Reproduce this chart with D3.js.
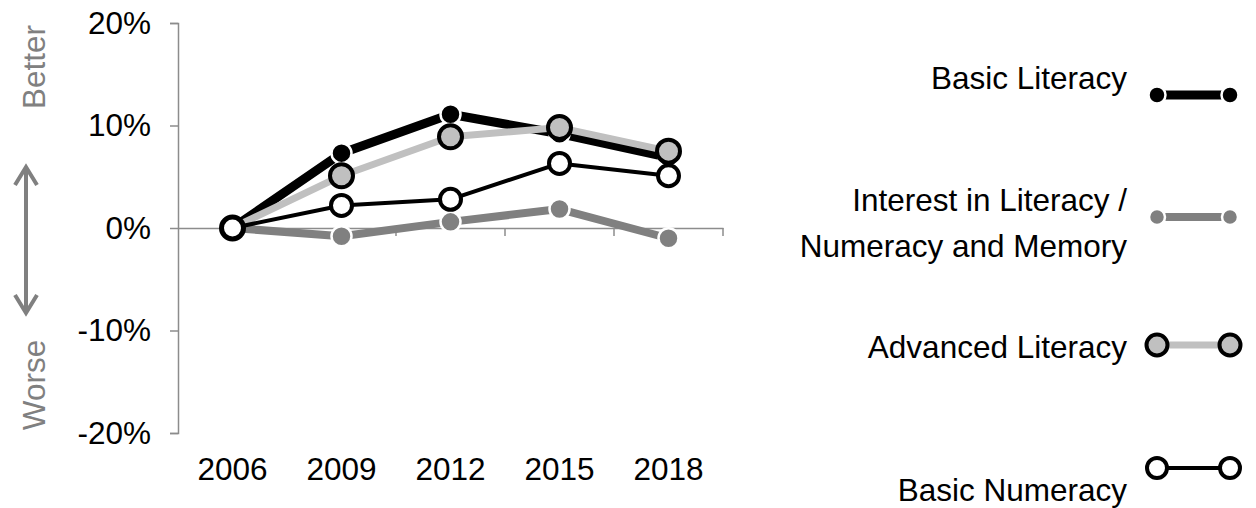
<!DOCTYPE html>
<html>
<head>
<meta charset="utf-8">
<script src="https://cdn.jsdelivr.net/npm/d3@7"></script>
<style>
  body { margin: 0; background: #fff; }
  text { font-family: "Liberation Sans", Arial, sans-serif; }
</style>
</head>
<body>
<svg id="chart" width="1256" height="508"></svg>
<script>
// data
var years = ['2006', '2009', '2012', '2015', '2018'];
var basicLiteracy = [0, 7.3, 11.1, 9.2, 6.9];
var interestLitNum = [0, -0.8, 0.6, 1.85, -1.0];
var advancedLiteracy = [0, 5.1, 8.9, 9.8, 7.5];
var basicNumeracy = [0, 2.2, 2.8, 6.3, 5.1];
var yTicks = [-20, -10, 0, 10, 20];

var series = [
  {name: ['Basic Literacy'], values: basicLiteracy, line: '#000', lw: 9, fill: '#000', stroke: '#fff', sw: 2.5, r: 10, lr: 8.5, legY: 95, txtY: 89},
  {name: ['Interest in Literacy /', 'Numeracy and Memory'], values: interestLitNum, line: '#808080', lw: 8, fill: '#808080', stroke: '#fff', sw: 2.5, r: 10, lr: 8, legY: 217, txtY: 211},
  {name: ['Advanced Literacy'], values: advancedLiteracy, line: '#c0c0c0', lw: 7, fill: '#c0c0c0', stroke: '#000', sw: 4, r: 11.5, lr: 10.5, legY: 345, txtY: 358},
  {name: ['Basic Numeracy'], values: basicNumeracy, line: '#000', lw: 4, fill: '#fff', stroke: '#000', sw: 4, r: 10.5, lr: 10, legY: 468, txtY: 501}
];

var fs = '31.5px';

var margin = {top: 23, left: 178},
    width = 545,
    height = 410;

var svg = d3.select('#chart');
var g = svg.append('g')
    .attr('transform', 'translate(' + margin.left + ',' + margin.top + ')');

var x = d3.scaleBand().domain(years).range([0, width]);
var y = d3.scaleLinear().domain([-20, 20]).range([height, 0]);

// y axis
var yAxis = g.append('g')
    .call(d3.axisLeft(y).tickValues(yTicks).tickSize(8).tickPadding(19).tickFormat(d => d + '%'));
yAxis.select('.domain').attr('stroke', '#8c8c8c').attr('stroke-width', 1.5);
yAxis.selectAll('.tick line').attr('stroke', '#8c8c8c').attr('stroke-width', 1.5);
yAxis.selectAll('.tick text').attr('fill', '#000').style('font-size', fs)
    .style('font-family', '"Liberation Sans", Arial, sans-serif');

// x axis along zero
var xAxis = g.append('g')
    .attr('transform', 'translate(0,' + y(0) + ')')
    .call(d3.axisBottom(x).tickSize(0).tickFormat(''));
xAxis.select('.domain').attr('stroke', '#8c8c8c').attr('stroke-width', 1.5);
// ticks between categories
var bounds = years.map(d => x(d) + x.bandwidth());
g.selectAll('.xtick')
  .data(bounds)
  .enter().append('line')
    .attr('x1', d => d).attr('x2', d => d)
    .attr('y1', y(0)).attr('y2', y(0) + 8)
    .attr('stroke', '#8c8c8c').attr('stroke-width', 1.5);

// year labels at the bottom
g.selectAll('.year')
  .data(years)
  .enter().append('text')
    .attr('x', d => x(d) + x.bandwidth() / 2)
    .attr('y', height + 47)
    .attr('text-anchor', 'middle')
    .style('font-size', fs)
    .text(d => d);

var line = d3.line()
    .x((d, i) => x(years[i]) + x.bandwidth() / 2)
    .y(d => y(d));

series.forEach(function(s) {
  g.append('path')
    .datum(s.values)
    .attr('fill', 'none')
    .attr('stroke', s.line)
    .attr('stroke-width', s.lw)
    .attr('stroke-linejoin', 'round')
    .attr('d', line);
  g.selectAll(null)
    .data(s.values)
    .enter().append('circle')
      .attr('cx', (d, i) => x(years[i]) + x.bandwidth() / 2)
      .attr('cy', d => y(d))
      .attr('r', s.r)
      .attr('fill', s.fill)
      .attr('stroke', s.stroke)
      .attr('stroke-width', s.sw);
});

// Better / Worse labels and double arrow
svg.append('text')
    .attr('transform', 'translate(45,67) rotate(-90)')
    .attr('text-anchor', 'middle')
    .attr('fill', '#808080')
    .style('font-size', fs)
    .text('Better');
svg.append('text')
    .attr('transform', 'translate(45,385) rotate(-90)')
    .attr('text-anchor', 'middle')
    .attr('fill', '#808080')
    .style('font-size', fs)
    .text('Worse');
svg.append('line')
    .attr('x1', 26).attr('x2', 26).attr('y1', 167).attr('y2', 313)
    .attr('stroke', '#808080').attr('stroke-width', 4);
svg.append('path')
    .attr('d', 'M15,185 L26,167 L37,185 M15,295 L26,313 L37,295')
    .attr('fill', 'none').attr('stroke', '#808080').attr('stroke-width', 4)
    .attr('stroke-linejoin', 'miter');

// legend
var leg = svg.append('g');
series.forEach(function(s) {
  var t = leg.append('text')
      .attr('x', 1127)
      .attr('y', s.txtY)
      .attr('text-anchor', 'end')
      .style('font-size', fs);
  s.name.forEach(function(n, i) {
    t.append('tspan').attr('x', 1127).attr('dy', i === 0 ? 0 : 46).text(n);
  });
  leg.append('line')
      .attr('x1', 1157).attr('x2', 1230)
      .attr('y1', s.legY).attr('y2', s.legY)
      .attr('stroke', s.line).attr('stroke-width', s.lw);
  leg.selectAll(null)
    .data([1157, 1230])
    .enter().append('circle')
      .attr('cx', d => d).attr('cy', s.legY)
      .attr('r', s.lr)
      .attr('fill', s.fill)
      .attr('stroke', s.stroke)
      .attr('stroke-width', s.sw);
});
</script>
</body>
</html>
